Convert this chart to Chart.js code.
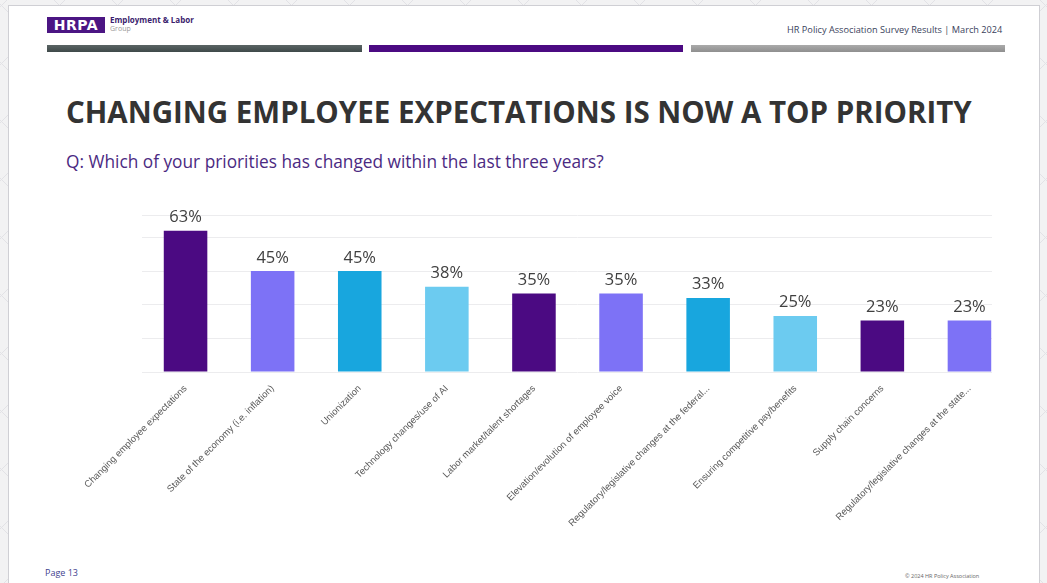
<!DOCTYPE html>
<html>
<head>
<meta charset="utf-8">
<script src="https://cdn.jsdelivr.net/npm/chart.js@4"></script>
<style>
  html, body { margin: 0; padding: 0; }
  body {
    width: 1047px; height: 583px; overflow: hidden; position: relative;
    background-color: #f2f2f3;
    background-image:
      repeating-linear-gradient(45deg, transparent 0 40px, #e2e2e6 40px 41px),
      repeating-linear-gradient(-45deg, transparent 0 40px, #e2e2e6 40px 41px);
    font-family: "Open Sans", sans-serif;
  }
  #slide {
    position: absolute; left: 8px; top: 5px; width: 1030px; height: 590px;
    background: #fff; border: 1px solid #cfcfd4;
  }
  .abs { position: absolute; white-space: nowrap; }
  #logo {
    left: 47px; top: 17px; width: 58px; height: 16px; background: #4b1583;
    color: #fff; font-family: "DejaVu Sans", sans-serif; font-weight: bold;
    font-size: 14px; line-height: 16px; text-align: center; letter-spacing: 0.5px;
  }
  #org { left: 110px; top: 15px; font-size: 8px; font-weight: bold; color: #3b1d6e; line-height: 9px; }
  #org span { display: block; font-weight: normal; color: #999; font-size: 7px; }
  #src { left: 787px; top: 23px; font-size: 9.2px; color: #3a3f5c; }
  .bar { position: absolute; top: 45px; height: 7px; }
  #title { left: 66px; top: 91px; font-size: 29.5px; font-weight: bold; color: #333; }
  #sub { left: 66px; top: 150px; font-size: 17.3px; color: #4b2a82; }
  #page { left: 45px; top: 566px; font-size: 9px; color: #3f3f8f; }
  #copy { left: 905px; top: 572px; font-size: 5.5px; color: #666; }
  #clip { position: absolute; left: 0; top: 190px; width: 992px; height: 370px; overflow: hidden; }
  #wrap { position: absolute; left: 40px; top: 10px; width: 973px; height: 352px; }
</style>
</head>
<body>
<div id="slide"></div>
<div class="abs" id="logo">HRPA</div>
<div class="abs" id="org">Employment &amp; Labor<span>Group</span></div>
<div class="abs" id="src">HR Policy Association Survey Results | March 2024</div>
<div class="bar" style="left:47px;width:315px;background:linear-gradient(#5a6464,#3f4a4a);"></div>
<div class="bar" style="left:369px;width:314px;background:#4b0a82;"></div>
<div class="bar" style="left:691px;width:314px;background:linear-gradient(#aaa,#8f8f8f);"></div>
<div class="abs" id="title">CHANGING EMPLOYEE EXPECTATIONS IS NOW A TOP PRIORITY</div>
<div class="abs" id="sub">Q: Which of your priorities has changed within the last three years?</div>
<div id="clip"><div id="wrap"><canvas id="chart"></canvas></div></div>
<div class="abs" id="page">Page 13</div>
<div class="abs" id="copy">© 2024 HR Policy Association</div>
<script>
const categories = [
  'Changing employee expectations',
  'State of the economy (i.e. inflation)',
  'Unionization',
  'Technology changes/use of AI',
  'Labor market/talent shortages',
  'Elevation/evolution of employee voice',
  'Regulatory/legislative changes at the federal...',
  'Ensuring competitive pay/benefits',
  'Supply chain concerns',
  'Regulatory/legislative changes at the state...'
];
const values = [63, 45, 45, 38, 35, 35, 33, 25, 23, 23];
const palette = ['#4b0a82', '#7d72f6', '#18a6de', '#6ccbf0'];
const barColors = values.map((v, i) => palette[i % 4]);

const valueLabels = {
  id: 'valueLabels',
  afterDatasetsDraw(chart) {
    const ctx = chart.ctx;
    const meta = chart.getDatasetMeta(0);
    ctx.save();
    ctx.font = '16.5px "Open Sans"';
    ctx.fillStyle = '#404040';
    ctx.textAlign = 'center';
    ctx.textBaseline = 'bottom';
    meta.data.forEach((bar, i) => {
      ctx.fillText(values[i] + '%', bar.x, bar.y - 5);
    });
    ctx.restore();
  }
};

function getChart() {
  const ctx = document.getElementById('chart').getContext('2d');
  new Chart(ctx, {
    type: 'bar',
    data: {
      labels: categories,
      datasets: [{
        data: values,
        backgroundColor: barColors,
        categoryPercentage: 1,
        barPercentage: 0.5
      }]
    },
    options: {
      responsive: true,
      maintainAspectRatio: false,
      animation: false,
      layout: { padding: { left: 102, top: 15, right: 0, bottom: 0 } },
      plugins: { legend: { display: false }, tooltip: { enabled: false } },
      scales: {
        x: {
          grid: { display: false },
          border: { display: false },
          ticks: {
            minRotation: 45, maxRotation: 45, autoSkip: false,
            color: '#5a5a5a', font: { family: 'Liberation Sans', size: 9.5 }, padding: 3
          },
          afterFit(scale) { scale.height = 180; }
        },
        y: {
          min: 0, max: 70,
          ticks: { display: false, stepSize: 15 },
          border: { display: false },
          grid: { color: '#ececee', drawTicks: false }
        }
      }
    },
    plugins: [valueLabels]
  });
}
getChart();
</script>
</body>
</html>
